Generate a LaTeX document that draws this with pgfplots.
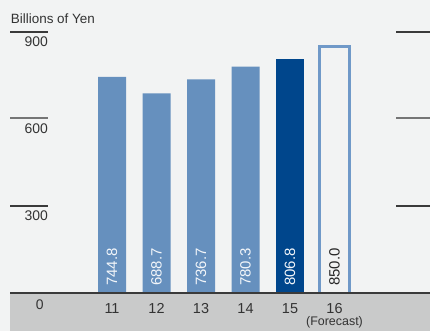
\documentclass[border=0pt]{standalone}
\usepackage{pgfplots}
\pgfplotsset{compat=1.18}
\usepackage{fontspec}
\setmainfont{Liberation Sans}
\definecolor{bg}{HTML}{F2F3F3}
\definecolor{band}{HTML}{C9CACA}
\definecolor{lightbar}{HTML}{6690BE}
\definecolor{darkbar}{HTML}{00468C}
\definecolor{outbar}{HTML}{7099C8}
\definecolor{txt}{HTML}{333333}
\definecolor{rule}{HTML}{3A3A3A}
\begin{document}
\begin{tikzpicture}
\path[use as bounding box] (0,0) rectangle (430bp,331bp);
\fill[bg] (0,0) rectangle (430bp,331bp);
\fill[band] (10bp,0) rectangle (430bp,38bp);
% scale rules
\draw[rule, line width=1.1bp] (10bp,299bp) -- (48bp,299bp);
\draw[rule!70, line width=1.1bp] (10bp,213bp) -- (48bp,213bp);
\draw[rule, line width=1.1bp] (10bp,125bp) -- (48bp,125bp);
\draw[rule, line width=1.1bp] (396bp,299bp) -- (430bp,299bp);
\draw[rule!70, line width=1.1bp] (396bp,213bp) -- (430bp,213bp);
\draw[rule, line width=1.1bp] (396bp,125bp) -- (430bp,125bp);
\begin{scope}[every node/.style={text=txt, font=\fontsize{14}{16}\selectfont, inner sep=0pt}]
\node[anchor=base west, font=\fontsize{13.5}{16}\selectfont] at (10.7bp,307.7bp) {Billions of Yen};
\node[anchor=base east] at (48bp,284.3bp) {900};
\node[anchor=base east] at (48bp,197.7bp) {600};
\node[anchor=base east] at (48bp,110bp) {300};
\node[anchor=base] at (39.7bp,22bp) {0};
\end{scope}
\begin{axis}[
 at={(0,0)}, anchor=south west,
 width=430bp, height=331bp, scale only axis,
 xmin=8.483, xmax=18.146, ymin=-131, ymax=1010.3,
 hide axis,
 clip=false,
]
\addplot[ybar, bar width=28bp, bar shift=0pt, draw=none, fill=lightbar]
 coordinates {(11,744.8) (12,688.7) (13,736.7) (14,780.3)};
\addplot[ybar, bar width=28bp, bar shift=0pt, draw=none, fill=darkbar]
 coordinates {(15,806.8)};
\addplot[ybar, bar width=30.4bp, bar shift=0pt, draw=outbar, line width=2.5bp, fill=bg]
 coordinates {(16,850.0)};
\addplot[draw=none, mark=none, nodes near coords, point meta=explicit symbolic,
 every node near coord/.style={rotate=90, anchor=west, inner sep=0pt, text=white!92!lightbar, font=\fontsize{15}{16}\selectfont}]
 coordinates {(11,24)[744.8] (12,24)[688.7] (13,24)[736.7] (14,24)[780.3] (15,24)[806.8]};
\addplot[draw=none, mark=none, nodes near coords, point meta=explicit symbolic,
 every node near coord/.style={rotate=90, anchor=west, inner sep=0pt, text=black!85, font=\fontsize{15}{16}\selectfont}]
 coordinates {(16,24)[850.0]};
% category labels
\addplot[draw=none, mark=none, nodes near coords, point meta=explicit symbolic,
 every node near coord/.style={anchor=base, inner sep=0pt, text=txt, font=\fontsize{14.5}{16}\selectfont}]
 coordinates {(11,-72)[11] (12,-72)[12] (13,-72)[13] (14,-72)[14] (15,-72)[15] (16,-72)[16]};
\node[anchor=base, inner sep=0pt, text=txt, font=\fontsize{12.5}{14}\selectfont] at (axis cs:16,-112) {(Forecast)};
\end{axis}
\draw[rule, line width=1.2bp] (10bp,38bp) -- (430bp,38bp);
\end{tikzpicture}
\end{document}
